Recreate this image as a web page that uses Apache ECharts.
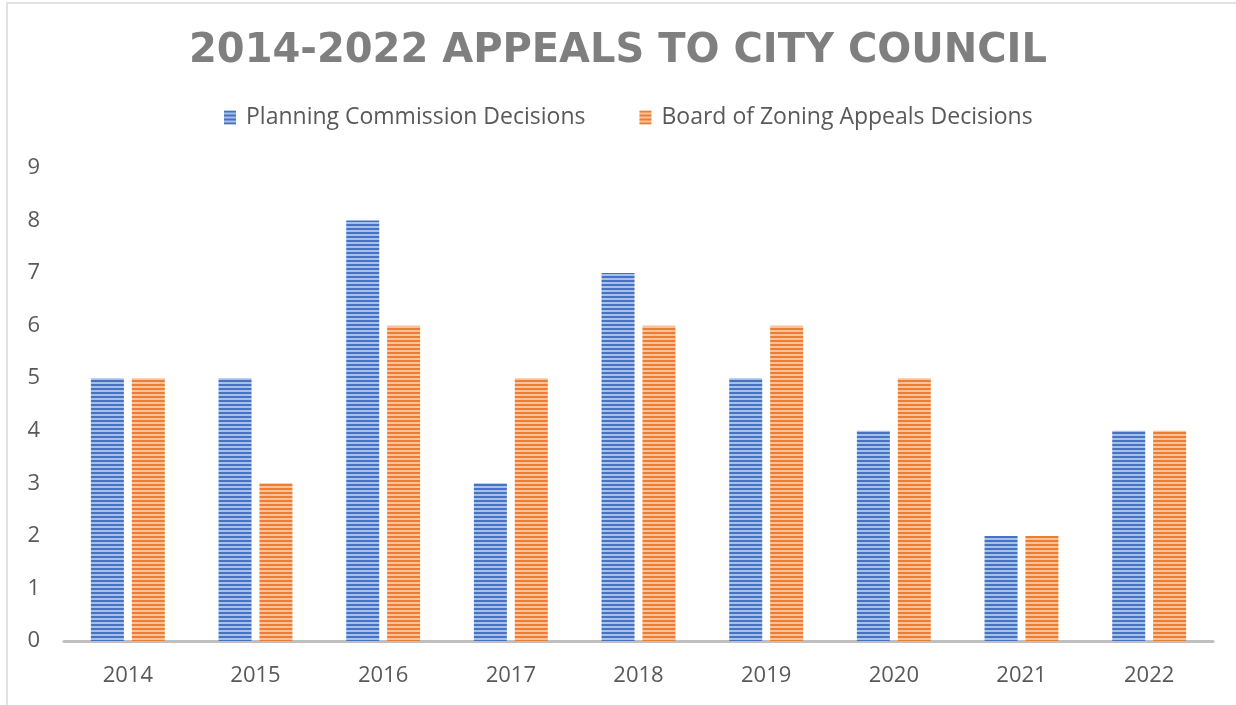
<!DOCTYPE html>
<html>
<head>
<meta charset="utf-8">
<script src="https://cdn.jsdelivr.net/npm/echarts@6/dist/echarts.min.js"></script>
<style>
html,body{margin:0;padding:0;background:#fff;}
#chart{width:1236px;height:705px;}
</style>
</head>
<body>
<div id="chart"></div>
<script>
const years = ['2014','2015','2016','2017','2018','2019','2020','2021','2022']
const planningCommission = [5, 5, 8, 3, 7, 5, 4, 2, 4]
const zoningAppeals = [5, 3, 6, 5, 6, 6, 5, 2, 4]
const seriesNames = ['Planning Commission Decisions', 'Board of Zoning Appeals Decisions']

// horizontal stripe fill, like the Excel pattern
function stripes(dark, light){
	let c = document.createElement('canvas')
	c.width = 4
	c.height = 4
	let ctx = c.getContext('2d')
	ctx.fillStyle = light
	ctx.fillRect(0, 0, 4, 4)
	ctx.fillStyle = dark
	ctx.fillRect(0, 0, 4, 2)
	return { image: c, repeat: 'repeat' }
}
const bluePattern = stripes('#4472c4', '#a9bfe6')
const orangePattern = stripes('#ed7d31', '#f7c39e')

let chartObj = echarts.init(document.getElementById('chart'))
let option = {
	animation: false,
	title: {
		text: '2014-2022 APPEALS TO CITY COUNCIL',
		left: 'center',
		top: 27,
		textStyle: {
			fontFamily: 'DejaVu Sans',
			fontWeight: 'bold',
			fontSize: 40,
			color: '#7f7f7f'
		}
	},
	legend: {
		top: 101,
		left: 219,
		itemWidth: 12,
		itemHeight: 14,
		itemGap: 54,
		icon: 'rect',
		textStyle: {
			fontFamily: 'Open Sans',
			fontSize: 23,
			color: '#595959',
			padding: [0, 0, 0, 5]
		},
		data: seriesNames
	},
	graphic: [{
		type: 'rect',
		shape: { x: 7, y: 3, width: 1260, height: 740 },
		style: { fill: 'none', stroke: '#d9d9d9', lineWidth: 1.5 },
		silent: true
	}],
	grid: {
		left: 64,
		right: 23,
		top: 168,
		bottom: 64
	},
	xAxis: {
		type: 'category',
		data: years,
		axisTick: { show: false },
		axisLine: { lineStyle: { color: '#bfbfbf', width: 3 } },
		axisLabel: {
			fontFamily: 'Open Sans',
			fontSize: 22,
			color: '#595959',
			margin: 24
		}
	},
	yAxis: {
		type: 'value',
		min: 0,
		max: 9,
		interval: 1,
		axisLine: { show: false },
		axisTick: { show: false },
		splitLine: { show: false },
		axisLabel: {
			fontFamily: 'Open Sans',
			fontSize: 22,
			color: '#595959',
			margin: 24
		}
	},
	series: [
		{
			name: seriesNames[0],
			type: 'bar',
			data: planningCommission,
			barWidth: 33,
			barGap: '24%',
			itemStyle: { color: bluePattern }
		},
		{
			name: seriesNames[1],
			type: 'bar',
			data: zoningAppeals,
			barWidth: 33,
			barGap: '24%',
			itemStyle: { color: orangePattern }
		}
	]
}
chartObj.setOption(option)
</script>
</body>
</html>
